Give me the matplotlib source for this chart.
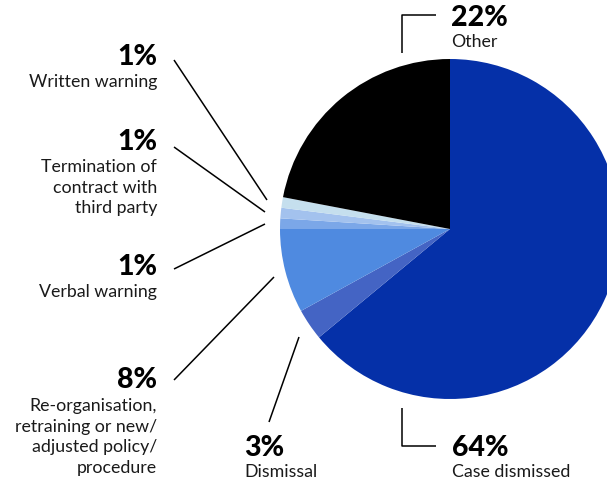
import matplotlib.pyplot as plt

plt.rcParams['font.family'] = ['Lato', 'DejaVu Sans']

# outcome shares, clockwise from 12 o'clock
labels = ['Case dismissed', 'Dismissal',
          'Re-organisation,\nretraining or new/\nadjusted policy/\nprocedure',
          'Verbal warning', 'Termination of\ncontract with\nthird party',
          'Written warning', 'Other']
values = [64, 3, 8, 1, 1, 1, 22]
colors = ['#0530a8', '#4464c4', '#4f8ae0', '#7ba7e8', '#a3c2ee', '#c5dfee', '#000000']

W, H = 607, 480
fig = plt.figure(figsize=(W / 100, H / 100), dpi=100)
ax = fig.add_axes([0, 0, 1, 1])

ax.pie(values, colors=colors, startangle=90, counterclock=False,
       center=(450, H - 229), radius=170, frame=True,
       wedgeprops=dict(linewidth=0))
ax.set_xlim(0, W)
ax.set_ylim(0, H)
ax.axis('off')


def py(v):
    return H - v


# label placement in pixel coords: x, alignment, pct baseline, first text baseline
place = {
    'Case dismissed': (452, 'left', 456, 477),
    'Dismissal': (244, 'left', 456, 477),
    'Re-organisation,\nretraining or new/\nadjusted policy/\nprocedure': (157, 'right', 388, 411),
    'Verbal warning': (157, 'right', 275, 297),
    'Termination of\ncontract with\nthird party': (157, 'right', 150, 172),
    'Written warning': (157, 'right', 65, 87),
    'Other': (451, 'left', 26, 47),
}
step = 20.6

for lab, val in zip(labels, values):
    x, ha, yb, yt = place[lab]
    ax.text(x, py(yb), f'{val}%', ha=ha, va='baseline', fontsize=20.5,
            fontweight='black', color='#000000')
    for i, line in enumerate(lab.split('\n')):
        ax.text(x, py(yt + i * step), line, ha=ha, va='baseline',
                fontsize=12.8, color='#1a1a1a')

# leader lines
leaders = [
    [(174, 60), (267, 200)],
    [(174, 147), (265, 212)],
    [(174, 269), (265, 224)],
    [(174, 380), (274, 277)],
    [(269, 422), (299, 337)],
    [(402, 408), (402, 446), (436, 446)],
    [(402, 53), (402, 15), (436, 15)],
]
for pts in leaders:
    xs = [p[0] for p in pts]
    ys = [py(p[1]) for p in pts]
    ax.plot(xs, ys, color='#000000', lw=1.1, solid_capstyle='butt')

fig.savefig('out.png', dpi=100)
